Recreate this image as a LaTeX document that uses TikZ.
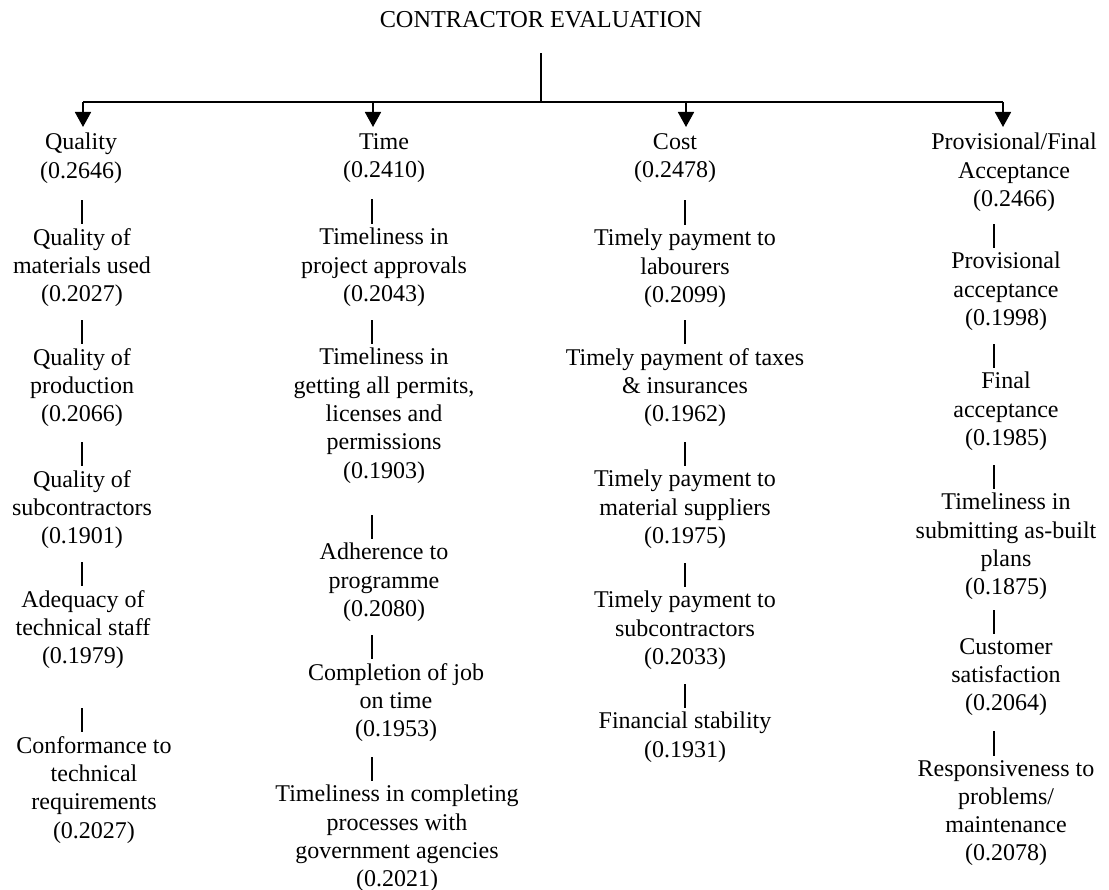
\documentclass[tikz,border=0pt]{standalone}
\usepackage{fontspec}
\setmainfont{Liberation Serif}
\usetikzlibrary{arrows.meta,calc}
\begin{document}
\begin{tikzpicture}[x=1pt,y=1pt,
  txt/.style={align=center,inner sep=0pt,anchor=north,font=\fontsize{24}{28.3}\selectfont},
  conn/.style={line width=1.8pt},
  arr/.style={line width=1.8pt,-{Triangle[width=16pt,length=15pt]},shorten >=6pt},
  bar/.style={line width=1.8pt,shorten >=4pt}]
\useasboundingbox (0,0) rectangle (1109,-890);
\node[font=\fontsize{24.3}{28.3}\selectfont,inner sep=0pt] (title) at (541,-20) {CONTRACTOR EVALUATION};
\coordinate (hub) at (541,-102);
\coordinate (qa) at (83,-102);
\coordinate (ta) at (373,-102);
\coordinate (ca) at (686,-102);
\coordinate (pa) at (1003,-102);
\coordinate (qx) at (82,0);
\coordinate (tx) at (372,0);
\coordinate (cx) at (685,0);
\coordinate (px) at (994,0);
% Quality
\node[txt] (q0) at (81,-133) {Quality\\(0.2646)};
\node[txt] (q1) at (82,-228) {Quality of\\materials used\\(0.2027)};
\node[txt] (q2) at (82,-348) {Quality of\\production\\(0.2066)};
\node[txt] (q3) at (82,-470) {Quality of\\subcontractors\\(0.1901)};
\node[txt] (q4) at (83,-590) {Adequacy of\\technical staff\\(0.1979)};
\node[txt] (q5) at (94,-736) {Conformance to\\technical\\requirements\\(0.2027)};
% Time
\node[txt] (t0) at (384,-133) {Time\\(0.2410)};
\node[txt] (t1) at (384,-228) {Timeliness in\\project approvals\\(0.2043)};
\node[txt] (t2) at (384,-348) {Timeliness in\\getting all permits,\\licenses and\\permissions\\(0.1903)};
\node[txt] (t3) at (384,-543) {Adherence to\\programme\\(0.2080)};
\node[txt] (t4) at (396,-663) {Completion of job\\on time\\(0.1953)};
\node[txt] (t5) at (397,-785) {Timeliness in completing\\processes with\\government agencies\\(0.2021)};
% Cost
\node[txt] (c0) at (675,-133) {Cost\\(0.2478)};
\node[txt] (c1) at (685,-229) {Timely payment to\\labourers\\(0.2099)};
\node[txt] (c2) at (685,-348) {Timely payment of taxes\\\& insurances\\(0.1962)};
\node[txt] (c3) at (685,-470) {Timely payment to\\material suppliers\\(0.1975)};
\node[txt] (c4) at (685,-591) {Timely payment to\\subcontractors\\(0.2033)};
\node[txt] (c5) at (685,-712) {Financial stability\\(0.1931)};
% Provisional
\node[txt] (p0) at (1014,-133) {Provisional/Final\\Acceptance\\(0.2466)};
\node[txt] (p1) at (1006,-252) {Provisional\\acceptance\\(0.1998)};
\node[txt] (p2) at (1006,-372) {Final\\acceptance\\(0.1985)};
\node[txt] (p3) at (1006,-493) {Timeliness in\\submitting as-built\\plans\\(0.1875)};
\node[txt] (p4) at (1006,-638) {Customer\\satisfaction\\(0.2064)};
\node[txt] (p5) at (1006,-760) {Responsiveness to\\problems/\\maintenance\\(0.2078)};
% top connectors
\draw[conn,shorten <=25pt] (title.south) -- (hub);
\draw[conn] (qa) -- (pa);
\draw[arr] (qa) -- (qa |- q0.north);
\draw[arr] (ta) -- (ta |- t0.north);
\draw[arr] (ca) -- (ca |- c0.north);
\draw[arr] (pa) -- (pa |- p0.north);
% bars
\draw[bar,shorten <=16.7pt] (q0.south -| qx) -- (q1.north -| qx);
\draw[bar,shorten <=13.4pt] (q1.south -| qx) -- (q2.north -| qx);
\draw[bar,shorten <=15.4pt] (q2.south -| qx) -- (q3.north -| qx);
\draw[bar,shorten <=13.4pt] (q3.south -| qx) -- (q4.north -| qx);
\draw[bar,shorten <=39.4pt] (q4.south -| qx) -- (q5.north -| qx);
\draw[bar,shorten <=16.7pt] (t0.south -| tx) -- (t1.north -| tx);
\draw[bar,shorten <=13.4pt] (t1.south -| tx) -- (t2.north -| tx);
\draw[bar,shorten <=31.8pt] (t2.south -| tx) -- (t3.north -| tx);
\draw[bar,shorten <=13.4pt] (t3.south -| tx) -- (t4.north -| tx);
\draw[bar,shorten <=15.4pt] (t4.south -| tx) -- (t5.north -| tx);
\draw[bar,shorten <=17.7pt] (c0.south -| cx) -- (c1.north -| cx);
\draw[bar,shorten <=12.4pt] (c1.south -| cx) -- (c2.north -| cx);
\draw[bar,shorten <=15.4pt] (c2.south -| cx) -- (c3.north -| cx);
\draw[bar,shorten <=14.4pt] (c3.south -| cx) -- (c4.north -| cx);
\draw[bar,shorten <=14.4pt] (c4.south -| cx) -- (c5.north -| cx);
\draw[bar,shorten <=12.4pt] (p0.south -| px) -- (p1.north -| px);
\draw[bar,shorten <=13.4pt] (p1.south -| px) -- (p2.north -| px);
\draw[bar,shorten <=14.4pt] (p2.south -| px) -- (p3.north -| px);
\draw[bar,shorten <=10.1pt] (p3.south -| px) -- (p4.north -| px);
\draw[bar,shorten <=15.4pt] (p4.south -| px) -- (p5.north -| px);
\end{tikzpicture}
\end{document}
